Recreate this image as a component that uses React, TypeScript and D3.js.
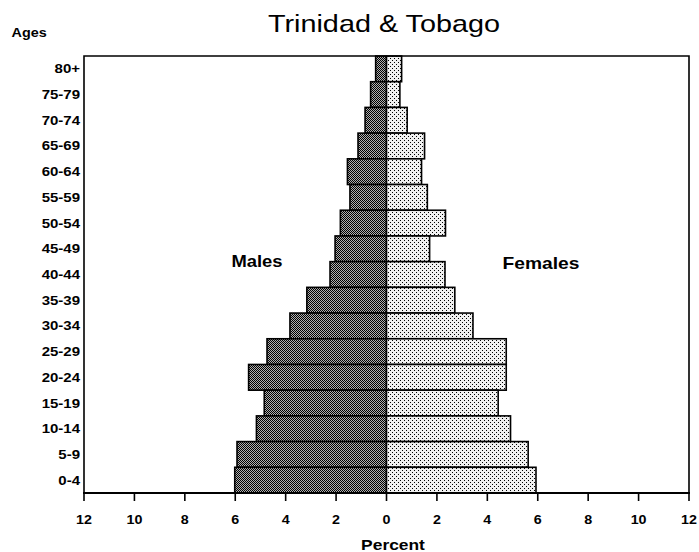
import React from "react";
import * as d3 from "d3";

const ageGroups = ["80+", "75-79", "70-74", "65-69", "60-64", "55-59", "50-54", "45-49", "40-44", "35-39", "30-34", "25-29", "20-24", "15-19", "10-14", "5-9", "0-4"];
const males = [0.43, 0.63, 0.85, 1.13, 1.55, 1.45, 1.83, 2.04, 2.24, 3.16, 3.83, 4.74, 5.47, 4.85, 5.16, 5.93, 6.02];
const females = [0.6, 0.53, 0.82, 1.51, 1.39, 1.62, 2.34, 1.71, 2.32, 2.71, 3.43, 4.75, 4.75, 4.43, 4.92, 5.62, 5.93];
const xTicks = [-12, -10, -8, -6, -4, -2, 0, 2, 4, 6, 8, 10, 12];
const title = "Trinidad & Tobago";

const W = 699, H = 552;
const left = 84, right = 689, top = 56, bottom = 493;
const FONT = "'Liberation Sans', Arial, Helvetica, sans-serif";

function T({ x, y, sx = 1.18, anchor = "start", size = 13, weight = "bold", children }: any) {
  return (
    <text
      transform={`translate(${x},${y}) scale(${sx},1)`}
      textAnchor={anchor}
      fontFamily={FONT}
      fontSize={size}
      fontWeight={weight}
      fill="#000"
    >
      {children}
    </text>
  );
}

export default function App() {
  const x = d3.scaleLinear().domain([-12, 12]).range([left, right]);
  const y = d3.scaleBand<string>().domain(ageGroups).range([top, bottom]).padding(0);
  const bw = y.bandwidth();

  return (
    <svg width={W} height={H} style={{ position: "absolute", left: 0, top: 0, background: "#fff" }}>
      <defs>
        <pattern id="malePat" width={2} height={2} patternUnits="userSpaceOnUse">
          <rect width={2} height={2} fill="#b0b0b0" />
          <rect width={1} height={1} fill="#000" />
          <rect x={1} y={1} width={1} height={1} fill="#000" />
        </pattern>
        <pattern id="femPat" width={4} height={4} patternUnits="userSpaceOnUse">
          <rect width={4} height={4} fill="#f0f0f0" />
          <rect width={1} height={1} fill="#000" />
          <rect x={2} y={2} width={1} height={1} fill="#000" />
        </pattern>
      </defs>
      <rect width={W} height={H} fill="#fff" />

      <T x={384} y={32} size={24} weight="normal" anchor="middle" sx={1.2}>{title}</T>
      <T x={11.5} y={37} size={12.5} sx={1.15}>Ages</T>

      {ageGroups.map((g, i) => (
        <g key={g}>
          <rect
            x={x(-males[i])}
            y={y(g)!}
            width={x(0) - x(-males[i])}
            height={bw}
            fill="url(#malePat)"
            stroke="#000"
            strokeWidth={1.6}
          />
          <rect
            x={x(0)}
            y={y(g)!}
            width={x(females[i]) - x(0)}
            height={bw}
            fill="url(#femPat)"
            stroke="#000"
            strokeWidth={1.6}
          />
          <T x={80} y={y(g)! + bw / 2 + 4.5} size={12.5} anchor="end" sx={1.2}>{g}</T>
        </g>
      ))}

      <path
        d={`M${left},${bottom} V${top} H${right} V${bottom}`}
        fill="none"
        stroke="#000"
        strokeWidth={1.6}
      />
      <line x1={left - 1} x2={right + 1} y1={bottom} y2={bottom} stroke="#000" strokeWidth={2} />

      {xTicks.map((t) => (
        <g key={t}>
          <line x1={x(t)} x2={x(t)} y1={bottom} y2={bottom + 8} stroke="#000" strokeWidth={1.6} />
          <T x={x(t)} y={523.5} size={13} anchor="middle" sx={1.1}>{Math.abs(t)}</T>
        </g>
      ))}

      <T x={393} y={550} size={14.5} anchor="middle" sx={1.2}>Percent</T>
      <T x={257} y={267} size={16} anchor="middle" sx={1.15}>Males</T>
      <T x={541} y={269} size={16} anchor="middle" sx={1.2}>Females</T>
    </svg>
  );
}
